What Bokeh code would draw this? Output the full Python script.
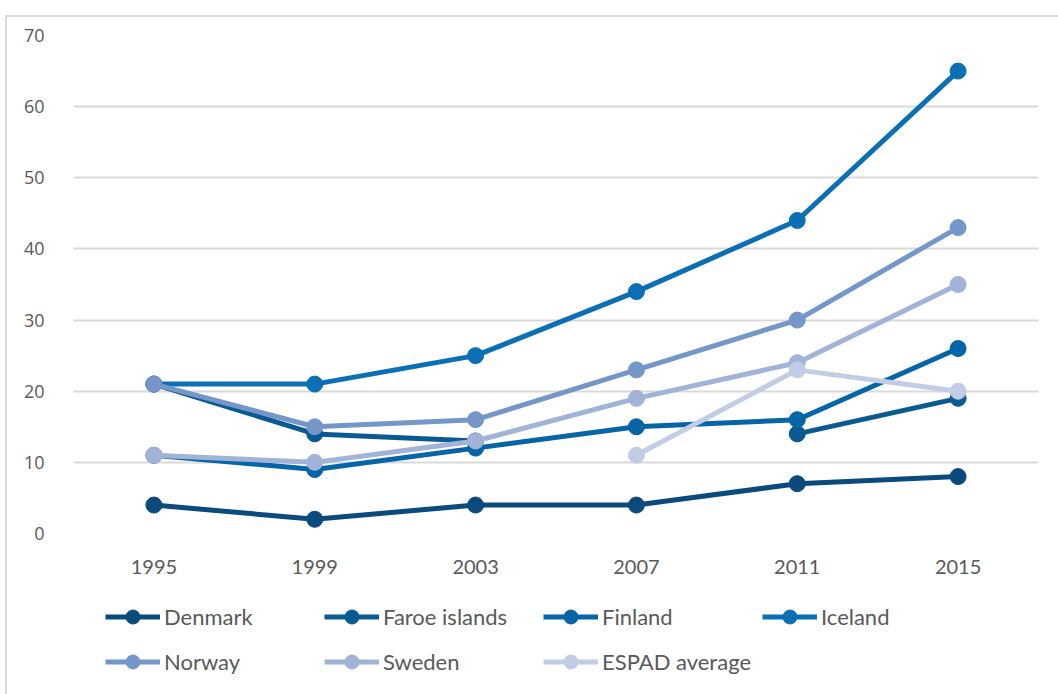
import math
from bokeh.plotting import figure
from bokeh.layouts import column
from bokeh.models import Legend, LegendItem, Range1d, InlineStyleSheet
from bokeh.embed import file_html
from bokeh.resources import INLINE

years = ["1995", "1999", "2003", "2007", "2011", "2015"]
nan = float("nan")
denmark = [4, 2, 4, 4, 7, 8]
faroe = [21, 14, 13, nan, 14, 19]
finland = [11, 9, 12, 15, 16, 26]
iceland = [21, 21, 25, 34, 44, 65]
norway = [21, 15, 16, 23, 30, 43]
sweden = [11, 10, 13, 19, 24, 35]
espad = [nan, nan, nan, 11, 23, 20]

series_names = ["Denmark", "Faroe islands", "Finland", "Iceland", "Norway", "Sweden", "ESPAD average"]
series_values = [denmark, faroe, finland, iceland, norway, sweden, espad]
colors = ["#0B4A7D", "#0A5A92", "#0565A7", "#0A6FB5", "#7596C8", "#A1B3D6", "#C0CDE4"]

TEXT = "#595959"

# main chart
p = figure(x_range=years, y_range=Range1d(0, 70), frame_width=965, frame_height=498,
           output_backend="svg", toolbar_location=None,
           min_border_left=73, min_border_right=20, min_border_top=35, min_border_bottom=57)
p.outline_line_color = None
p.background_fill_color = "white"
p.border_fill_color = "white"

for vals, col in zip(series_values, colors):
    p.line(years, vals, line_color=col, line_width=5)
    p.scatter(years, vals, size=16, fill_color=col, line_color=col)

p.xgrid.grid_line_color = None
p.ygrid.grid_line_color = "#D9D9D9"
p.ygrid.grid_line_width = 2
p.yaxis.ticker = [0, 10, 20, 30, 40, 50, 60, 70]
for ax in (p.xaxis[0], p.yaxis[0]):
    ax.axis_line_color = None
    ax.major_tick_line_color = None
    ax.minor_tick_line_color = None
    ax.major_label_text_color = TEXT
p.yaxis.major_label_text_font = "Open Sans"
p.yaxis.major_label_text_font_size = "18px"
p.yaxis.major_label_standoff = 23
p.xaxis.major_label_text_font = "Lato"
p.xaxis.major_label_text_font_size = "20px"
p.xaxis.major_label_standoff = 20

# legend strip (same series, drawn outside its visible range so only the legend shows)
q = figure(x_range=years, y_range=Range1d(1000, 1001), width=1058, height=104,
           output_backend="svg", toolbar_location=None,
           x_axis_location=None, y_axis_location=None,
           min_border=0)
q.outline_line_color = None
q.grid.visible = False
q.border_fill_color = "white"

items = {}
for name, vals, col in zip(series_names, series_values, colors):
    r1 = q.line(years, vals, line_color=col, line_width=5)
    r2 = q.scatter(years, vals, size=16, fill_color=col, line_color=col)
    items[name] = LegendItem(label=name, renderers=[r1, r2])

# the legend fills column by column: order so rows read like the reference
order = ["Denmark", "Norway", "Faroe islands", "Sweden", "Finland", "ESPAD average", "Iceland"]

legend = Legend(items=[items[n] for n in order], ncols=4, location=(32, 15),
                glyph_width=55, glyph_height=35, label_standoff=4, label_width=150,
                label_height=20, spacing=10, padding=0, margin=0,
                border_line_color=None, background_fill_alpha=0,
                label_text_font="Lato", label_text_font_size="22px",
                label_text_color=TEXT)
q.add_layout(legend, "center")

frame_css = InlineStyleSheet(css=""":host { overflow: hidden; }
:host::after {
  content: ""; position: absolute; left: 5px; top: 15px; width: 1200px; height: 800px;
  border-left: 2px solid #D9D9D9; border-top: 2px solid #D9D9D9;
  pointer-events: none; z-index: 10;
}""")

layout = column(p, q, spacing=0, stylesheets=[frame_css])
open("out.html", "w").write(file_html(layout, INLINE))
